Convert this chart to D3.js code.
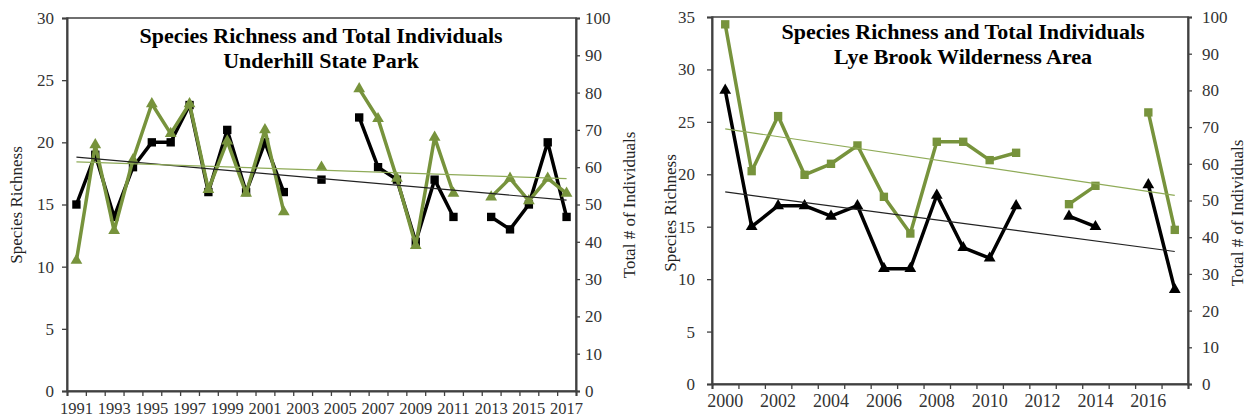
<!DOCTYPE html>
<html>
<head>
<meta charset="utf-8">
<script src="https://cdn.jsdelivr.net/npm/d3@7"></script>
<style>
  body { margin: 0; background: #fff; }
  svg { display: block; font-family: "Liberation Serif", "Times New Roman", serif; }
</style>
</head>
<body>
<svg width="1248" height="418"></svg>
<script>
"use strict";

// Underhill State Park
var yearsA = [1991, 1992, 1993, 1994, 1995, 1996, 1997, 1998, 1999, 2000, 2001, 2002, 2003, 2004,
              2005, 2006, 2007, 2008, 2009, 2010, 2011, 2012, 2013, 2014, 2015, 2016, 2017];
var richnessA = [15, 19, 14, 18, 20, 20, 23, 16, 21, 16, 20, 16, null, 17,
                 null, 22, 18, 17, 12, 17, 14, null, 14, 13, 15, 20, 14];
var individualsA = [35, 66, 43, 62, 77, 69, 77, 54, 67, 53, 70, 48, null, 60,
                    null, 81, 73, 57, 39, 68, 53, null, 52, 57, 51, 57, 53];

// Lye Brook Wilderness Area
var yearsB = [2000, 2001, 2002, 2003, 2004, 2005, 2006, 2007, 2008,
              2009, 2010, 2011, 2012, 2013, 2014, 2015, 2016, 2017];
var richnessB = [28, 15, 17, 17, 16, 17, 11, 11, 18, 13, 12, 17, null, 16, 15, null, 19, 9];
var individualsB = [98, 58, 73, 57, 60, 65, 51, 41, 66, 66, 61, 63, null, 49, 54, null, 74, 42];

var leftTicksA = [0, 5, 10, 15, 20, 25, 30];
var leftTicksB = [0, 5, 10, 15, 20, 25, 30, 35];
var rightTicks = [0, 10, 20, 30, 40, 50, 60, 70, 80, 90, 100];

var GREEN = "#77933c";
var AXIS = "#404040";

// least squares fit against the category index, blanks skipped
var trend = function(values) {
    var pts = values.map(function(v, i) { return [i, v]; })
        .filter(function(p) { return p[1] != null; });
    var mx = d3.mean(pts, function(p) { return p[0]; });
    var my = d3.mean(pts, function(p) { return p[1]; });
    var sxy = d3.sum(pts, function(p) { return (p[0] - mx) * (p[1] - my); });
    var sxx = d3.sum(pts, function(p) { return (p[0] - mx) * (p[0] - mx); });
    var b = sxy / sxx;
    var a = my - b * mx;
    return [[0, a], [values.length - 1, a + b * (values.length - 1)]];
};

var drawPanel = function(cfg) {

    var svg = d3.select("svg");
    var g = svg.append("g").attr("class", "panel");

    var x = d3.scaleBand()
        .domain(cfg.years)
        .range([cfg.x0, cfg.x1]);

    var xEdge = d3.scaleLinear()
        .domain([0, cfg.years.length])
        .range([cfg.x0, cfg.x1]);

    var yL = d3.scaleLinear()
        .domain([0, cfg.leftMax])
        .range([cfg.y1, cfg.y0]);

    var yR = d3.scaleLinear()
        .domain([0, 100])
        .range([cfg.y1, cfg.y0]);

    var cx = function(i) { return x(cfg.years[i]) + x.bandwidth() / 2; };

    // Plot frame
    g.append("rect")
        .attr("x", cfg.x0)
        .attr("y", cfg.y0)
        .attr("width", cfg.x1 - cfg.x0)
        .attr("height", cfg.y1 - cfg.y0)
        .attr("fill", "none")
        .attr("stroke", AXIS)
        .attr("stroke-width", 1.5);

    // Left axis
    var axL = g.append("g")
        .attr("transform", "translate(" + cfg.x0 + ",0)")
        .call(d3.axisLeft(yL).tickValues(cfg.leftTicks).tickSize(5).tickPadding(cfg.padL));

    // Right axis
    var axR = g.append("g")
        .attr("transform", "translate(" + cfg.x1 + ",0)")
        .call(d3.axisRight(yR).tickValues(rightTicks).tickSize(4).tickPadding(cfg.padR));

    // Bottom axis: ticks between categories, labels on every other year
    var axT = g.append("g")
        .attr("transform", "translate(0," + cfg.y1 + ")")
        .call(d3.axisBottom(xEdge).ticks(cfg.years.length).tickSize(5).tickFormat(""));

    var axB = g.append("g")
        .attr("transform", "translate(0," + cfg.y1 + ")")
        .call(d3.axisBottom(x)
            .tickValues(cfg.years.filter(function(d, i) { return i % 2 === 0; }))
            .tickSize(0)
            .tickPadding(cfg.padB));
    axB.select(".domain").remove();

    [axL, axR, axT, axB].forEach(function(ax) {
        ax.select(".domain").attr("stroke", AXIS).attr("stroke-width", 2);
        ax.selectAll(".tick line").attr("stroke", AXIS).attr("stroke-width", 1.3);
        ax.selectAll("text")
            .attr("fill", "#333")
            .style("font-family", "Liberation Serif, serif")
            .style("font-size", cfg.tickFont + "px");
    });
    axB.selectAll("text").style("font-size", cfg.xFont + "px");

    // Axis titles
    g.append("text")
        .attr("transform", "translate(" + cfg.titleL + "," + cfg.titleY + ") rotate(-90)")
        .attr("text-anchor", "middle")
        .attr("fill", "#222")
        .style("font-size", "17px")
        .text("Species Richness");

    g.append("text")
        .attr("transform", "translate(" + cfg.titleR + "," + cfg.titleY + ") rotate(-90)")
        .attr("text-anchor", "middle")
        .attr("fill", "#222")
        .style("font-size", "17px")
        .text("Total # of Individuals");

    // Chart title
    var title = g.append("text")
        .attr("text-anchor", "middle")
        .style("font-size", "22px")
        .style("font-weight", "bold")
        .attr("fill", "#000");
    title.append("tspan").attr("x", cfg.titleX).attr("y", cfg.titleBase).text("Species Richness and Total Individuals");
    title.append("tspan").attr("x", cfg.titleX).attr("y", cfg.titleBase + 25).text(cfg.site);

    // Series
    var series = [
        { values: cfg.richness, y: yL, color: "#000", symbol: cfg.richSymbol, size: cfg.richSize },
        { values: cfg.individuals, y: yR, color: GREEN, symbol: cfg.indSymbol, size: cfg.indSize }
    ];

    series.forEach(function(s) {
        var line = d3.line()
            .defined(function(d) { return d != null; })
            .x(function(d, i) { return cx(i); })
            .y(function(d) { return s.y(d); });

        g.append("path")
            .datum(s.values)
            .attr("d", line)
            .attr("fill", "none")
            .attr("stroke", s.color)
            .attr("stroke-width", 3.5)
            .attr("stroke-linejoin", "round");

        g.append("g")
            .selectAll("path")
            .data(s.values.map(function(v, i) { return { v: v, i: i }; })
                .filter(function(d) { return d.v != null; }))
            .enter().append("path")
            .attr("transform", function(d) { return "translate(" + cx(d.i) + "," + s.y(d.v) + ")"; })
            .attr("d", d3.symbol().type(s.symbol).size(s.size))
            .attr("fill", s.color);
    });

    // Linear trend lines
    series.forEach(function(s) {
        var t = trend(s.values);
        g.append("line")
            .attr("x1", cx(t[0][0]))
            .attr("y1", s.y(t[0][1]))
            .attr("x2", cx(t[1][0]))
            .attr("y2", s.y(t[1][1]))
            .attr("stroke", s.color === GREEN ? "#8fab58" : "#222")
            .attr("stroke-width", 1.2);
    });
};

drawPanel({
    years: yearsA, richness: richnessA, individuals: individualsA,
    leftMax: 30, leftTicks: leftTicksA,
    x0: 67, x1: 576, y0: 18, y1: 391,
    padL: 8, padR: 5, padB: 11, tickFont: 17, xFont: 16.5,
    titleL: 22, titleR: 635, titleY: 205,
    titleX: 321, titleBase: 43, site: "Underhill State Park",
    richSymbol: d3.symbolSquare, richSize: 70,
    indSymbol: d3.symbolTriangle, indSize: 60
});

drawPanel({
    years: yearsB, richness: richnessB, individuals: individualsB,
    leftMax: 35, leftTicks: leftTicksB,
    x0: 712, x1: 1188, y0: 17, y1: 384,
    padL: 12, padR: 10, padB: 10, tickFont: 17, xFont: 18,
    titleL: 676, titleR: 1243, titleY: 213,
    titleX: 963, titleBase: 39, site: "Lye Brook Wilderness Area",
    richSymbol: d3.symbolTriangle, richSize: 60,
    indSymbol: d3.symbolSquare, indSize: 70
});
</script>
</body>
</html>
